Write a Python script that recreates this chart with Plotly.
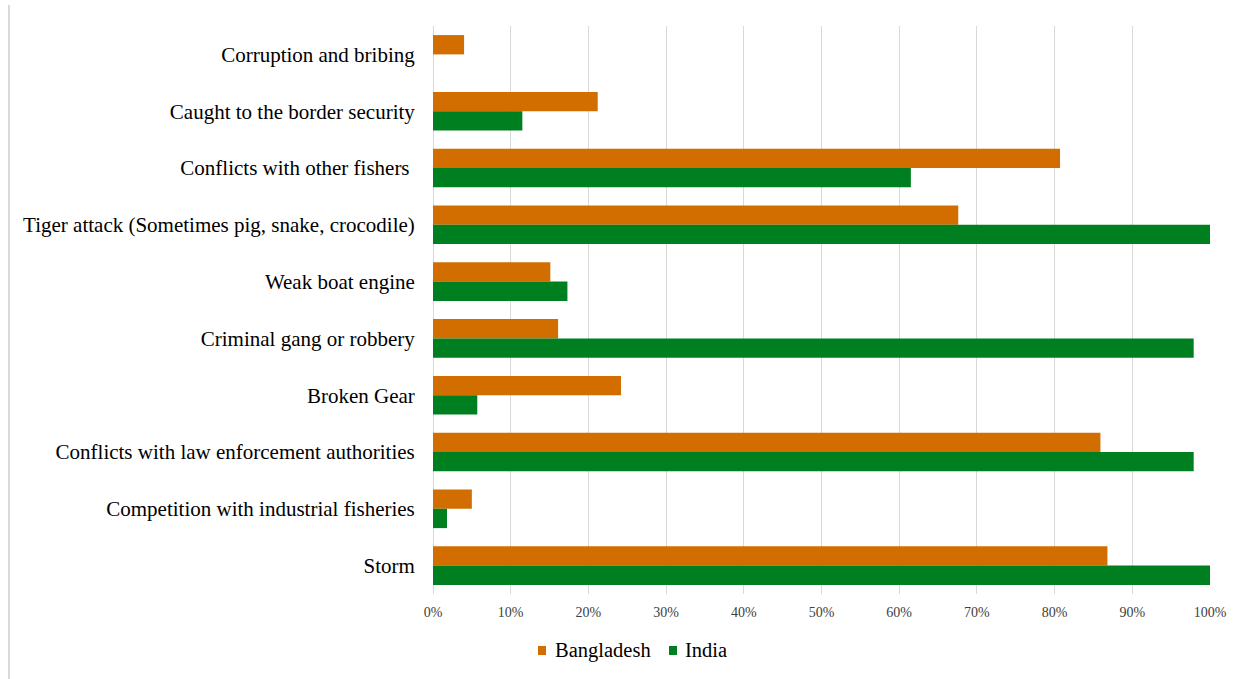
import plotly.graph_objects as go

categories = [
    "Corruption and bribing",
    "Caught to the border security",
    "Conflicts with other fishers ",
    "Tiger attack (Sometimes pig, snake, crocodile)",
    "Weak boat engine",
    "Criminal gang or robbery",
    "Broken Gear",
    "Conflicts with law enforcement authorities",
    "Competition with industrial fisheries",
    "Storm",
]
bangladesh = [0.040, 0.212, 0.807, 0.676, 0.151, 0.161, 0.242, 0.859, 0.050, 0.868]
india = [None, 0.115, 0.615, 1.000, 0.173, 0.979, 0.057, 0.979, 0.018, 1.000]
x_ticks = [0, 0.1, 0.2, 0.3, 0.4, 0.5, 0.6, 0.7, 0.8, 0.9, 1.0]
series_names = ["Bangladesh", "India"]

ORANGE = "#D26E00"
GREEN = "#007F20"
SERIF = "Liberation Serif, Times New Roman, serif"

fig = go.Figure()
fig.add_trace(go.Bar(y=categories, x=bangladesh, orientation="h", name=series_names[0],
                     marker=dict(color=ORANGE, line=dict(width=0))))
fig.add_trace(go.Bar(y=categories, x=india, orientation="h", name=series_names[1],
                     marker=dict(color=GREEN, line=dict(width=0))))

fig.update_layout(
    width=1247, height=679,
    margin=dict(l=433, r=37, t=26, b=85),
    paper_bgcolor="white", plot_bgcolor="white",
    barmode="group", bargap=0.32, bargroupgap=0,
    font=dict(family=SERIF, color="black"),
    showlegend=False,
    xaxis=dict(range=[0, 1.0], tickvals=x_ticks, tickformat=".0%",
               showgrid=True, gridcolor="#D9D9D9", gridwidth=1,
               zeroline=True, zerolinecolor="#D9D9D9", zerolinewidth=1,
               showline=False, ticks="outside", ticklen=5, tickcolor="rgba(0,0,0,0)",
               tickfont=dict(size=14, family=SERIF, color="#404040"), fixedrange=True),
    yaxis=dict(autorange="reversed", showgrid=False, showline=False, zeroline=False,
               ticks="outside", ticklen=13, tickcolor="rgba(0,0,0,0)",
               tickfont=dict(size=21, family=SERIF, color="black"), fixedrange=True),
)

def px_x(p):
    return (p - 433) / 777

def px_y(p):
    return (594 - p) / 568

# light chart frame line at the left edge
fig.add_shape(type="line", xref="paper", yref="paper",
              x0=px_x(9), x1=px_x(9), y0=px_y(5), y1=px_y(679),
              line=dict(color="#D9D9D9", width=2))

# legend drawn as swatches + text (matches the compact Excel legend)
legend_items = [(series_names[0], ORANGE, 538, 553), (series_names[1], GREEN, 669, 683)]
for name, col, sx, tx in legend_items:
    fig.add_shape(type="rect", xref="paper", yref="paper",
                  x0=px_x(sx), x1=px_x(sx + 8), y0=px_y(655), y1=px_y(646),
                  fillcolor=col, line=dict(width=0))
    fig.add_annotation(xref="paper", yref="paper", x=px_x(tx), y=px_y(650),
                       xanchor="left", yanchor="middle", showarrow=False,
                       text=name, font=dict(size=20.5, family=SERIF, color="black"))

fig.write_html("out.html")
